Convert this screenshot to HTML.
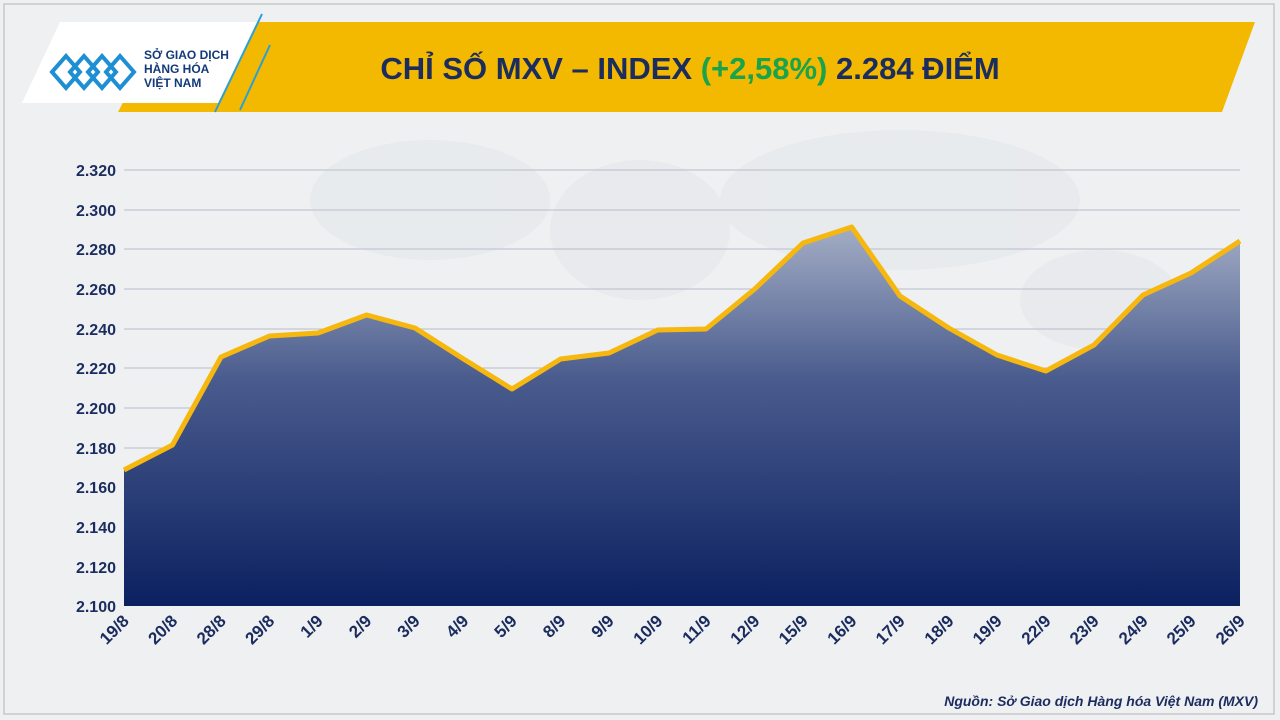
<!DOCTYPE html>
<html><head><meta charset="utf-8"><style>
html,body{margin:0;padding:0}
body{width:1280px;height:720px;position:relative;overflow:hidden;background:#f1f2f4;font-family:"Liberation Sans",sans-serif}
</style></head><body>
<svg width="1280" height="720" viewBox="0 0 1280 720" style="position:absolute;left:0;top:0">
<defs>
<linearGradient id="g" gradientUnits="userSpaceOnUse" x1="0" y1="227" x2="0" y2="606">
<stop offset="0" stop-color="#a3adc4"/>
<stop offset="0.4" stop-color="#4a5c8e"/>
<stop offset="1" stop-color="#0b2060"/>
</linearGradient>
</defs>
<rect x="0" y="0" width="1280" height="720" fill="#eff0f2"/>
<rect x="4" y="4" width="1270" height="710" fill="none" stroke="#c8c8c8" stroke-width="1.5"/>
<g fill="#e6e8eb" opacity="0.7">
<ellipse cx="430" cy="200" rx="120" ry="60"/>
<ellipse cx="640" cy="230" rx="90" ry="70"/>
<ellipse cx="900" cy="200" rx="180" ry="70"/>
<ellipse cx="1100" cy="300" rx="80" ry="50"/>
</g>
<polygon points="165,22 1255,22 1222,112 118,112" fill="#f3b800"/>
<polygon points="22,103 60,22 258,22 218,103" fill="#ffffff"/>
<line x1="215" y1="112" x2="262" y2="14" stroke="#2a9fd8" stroke-width="2"/>
<line x1="240" y1="110" x2="270" y2="45" stroke="#2a9fd8" stroke-width="2"/>
<g fill="none" stroke="#1f8fd4" stroke-width="4">
<path d="M52,72 L66,56 L80,72 L66,88 Z"/>
<path d="M70,72 L84,56 L98,72 L84,88 Z"/>
<path d="M88,72 L102,56 L116,72 L102,88 Z"/>
<path d="M106,72 L120,56 L134,72 L120,88 Z"/>
</g>
<text x="144" y="59" font-size="12" font-weight="bold" fill="#123a7a">SỞ GIAO DỊCH</text>
<text x="144" y="73" font-size="12" font-weight="bold" fill="#123a7a">HÀNG HÓA</text>
<text x="144" y="87" font-size="12" font-weight="bold" fill="#123a7a">VIỆT NAM</text>
<text x="690" y="79" font-size="31" font-weight="bold" fill="#1b2c5e" text-anchor="middle">CHỈ SỐ MXV – INDEX <tspan fill="#1aa34a">(+2,58%)</tspan> 2.284 ĐIỂM</text>
<g stroke="#b7bccb" stroke-width="1">
<line x1="124" y1="170" x2="1240" y2="170"/><line x1="124" y1="210" x2="1240" y2="210"/>
<line x1="124" y1="249" x2="1240" y2="249"/><line x1="124" y1="289" x2="1240" y2="289"/>
<line x1="124" y1="329" x2="1240" y2="329"/><line x1="124" y1="368" x2="1240" y2="368"/>
<line x1="124" y1="408" x2="1240" y2="408"/><line x1="124" y1="448" x2="1240" y2="448"/>
<line x1="124" y1="487" x2="1240" y2="487"/><line x1="124" y1="527" x2="1240" y2="527"/>
<line x1="124" y1="567" x2="1240" y2="567"/>
</g>
<path d="M124,470 L172.5,445 L221,357 L269.5,336 L318,333 L366.6,315 L415,328 L463.6,359 L512,389 L560.6,359 L609,353 L657.7,330 L706,329 L754.7,289 L803,243 L851.7,227 L900,296 L948.8,328 L997,355 L1045.8,371 L1094,345 L1143,295 L1191,273 L1240,241 L1240,606 L124,606 Z" fill="url(#g)"/>
<polyline points="124,470 172.5,445 221,357 269.5,336 318,333 366.6,315 415,328 463.6,359 512,389 560.6,359 609,353 657.7,330 706,329 754.7,289 803,243 851.7,227 900,296 948.8,328 997,355 1045.8,371 1094,345 1143,295 1191,273 1240,241" fill="none" stroke="#f6b80f" stroke-width="5" stroke-linejoin="round"/>
<g font-size="16" font-weight="bold" fill="#1b2c5e" text-anchor="end">
<text x="116" y="176">2.320</text><text x="116" y="216">2.300</text><text x="116" y="255">2.280</text>
<text x="116" y="295">2.260</text><text x="116" y="335">2.240</text><text x="116" y="374">2.220</text>
<text x="116" y="414">2.200</text><text x="116" y="454">2.180</text><text x="116" y="493">2.160</text>
<text x="116" y="533">2.140</text><text x="116" y="573">2.120</text><text x="116" y="612">2.100</text>
</g>
<g font-size="17" font-weight="bold" fill="#1b2c5e" text-anchor="end">
<text transform="translate(130,622) rotate(-45)">19/8</text>
<text transform="translate(178.5,622) rotate(-45)">20/8</text>
<text transform="translate(227,622) rotate(-45)">28/8</text>
<text transform="translate(275.5,622) rotate(-45)">29/8</text>
<text transform="translate(324,622) rotate(-45)">1/9</text>
<text transform="translate(372.6,622) rotate(-45)">2/9</text>
<text transform="translate(421,622) rotate(-45)">3/9</text>
<text transform="translate(469.6,622) rotate(-45)">4/9</text>
<text transform="translate(518,622) rotate(-45)">5/9</text>
<text transform="translate(566.6,622) rotate(-45)">8/9</text>
<text transform="translate(615,622) rotate(-45)">9/9</text>
<text transform="translate(663.7,622) rotate(-45)">10/9</text>
<text transform="translate(712,622) rotate(-45)">11/9</text>
<text transform="translate(760.7,622) rotate(-45)">12/9</text>
<text transform="translate(809,622) rotate(-45)">15/9</text>
<text transform="translate(857.7,622) rotate(-45)">16/9</text>
<text transform="translate(906,622) rotate(-45)">17/9</text>
<text transform="translate(954.8,622) rotate(-45)">18/9</text>
<text transform="translate(1003,622) rotate(-45)">19/9</text>
<text transform="translate(1051.8,622) rotate(-45)">22/9</text>
<text transform="translate(1100,622) rotate(-45)">23/9</text>
<text transform="translate(1149,622) rotate(-45)">24/9</text>
<text transform="translate(1197,622) rotate(-45)">25/9</text>
<text transform="translate(1246,622) rotate(-45)">26/9</text>
</g>
<text x="1258" y="706" font-size="14" font-weight="bold" font-style="italic" fill="#1b2c5e" text-anchor="end">Nguồn: Sở Giao dịch Hàng hóa Việt Nam (MXV)</text>
</svg>
</body></html>
